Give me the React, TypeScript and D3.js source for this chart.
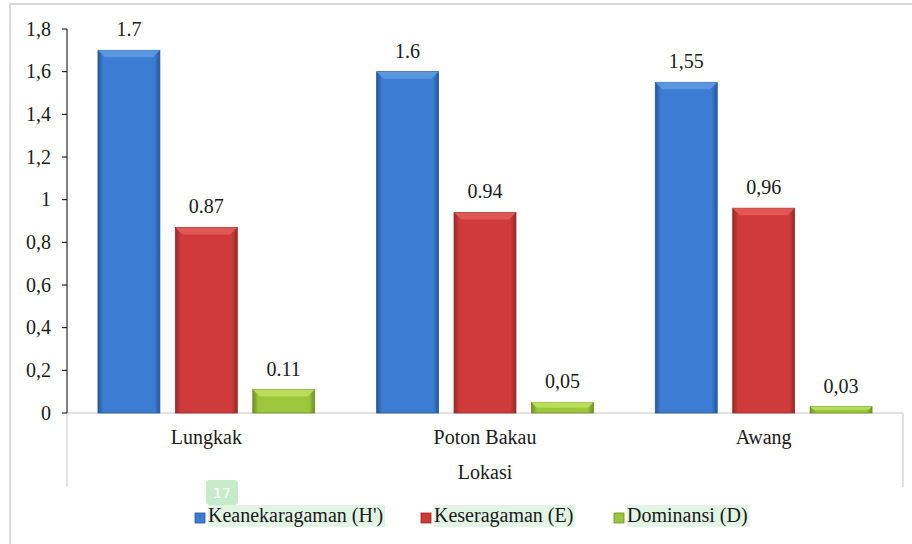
import { useEffect, useRef, useState } from 'react';
import * as d3 from 'd3';

// chart data
const locations = ['Lungkak', 'Poton Bakau', 'Awang'];
const seriesNames = ["Keanekaragaman (H')", 'Keseragaman (E)', 'Dominansi (D)'];
const diversity = [1.7, 1.6, 1.55];
const evenness = [0.87, 0.94, 0.96];
const dominance = [0.11, 0.05, 0.03];
const diversityLabels = ['1.7', '1.6', '1,55'];
const evennessLabels = ['0.87', '0.94', '0,96'];
const dominanceLabels = ['0.11', '0,05', '0,03'];
const yTicks = [0, 0.2, 0.4, 0.6, 0.8, 1, 1.2, 1.4, 1.6, 1.8];
const xTitle = 'Lokasi';

const palette = [
  { main: '#3c7dd3', light: '#5a95e0', dark: '#27579a' },
  { main: '#cf3a3a', light: '#df5856', dark: '#982a2a' },
  { main: '#9cc63c', light: '#b9dd5c', dark: '#6c8f24' },
];

const serif = { fontFamily: 'Tinos', fontSize: '20px' };

export default function App() {
  const width = 912;
  const height = 544;
  const left = 67;
  const right = 903;
  const top = 29;
  const bottom = 413;

  const y = d3.scaleLinear().domain([0, 1.8]).range([bottom, top]);
  const x0 = d3.scaleBand<string>().domain(locations).range([left, right]);
  const x1 = d3.scaleBand<string>()
    .domain(seriesNames)
    .range([0, x0.bandwidth()])
    .paddingInner(0.2)
    .paddingOuter(0.4);

  const series = [
    { values: diversity, labels: diversityLabels },
    { values: evenness, labels: evennessLabels },
    { values: dominance, labels: dominanceLabels },
  ];

  // legend highlight widths follow the measured text
  const legendX = [195, 421, 614];
  const legendRefs = useRef<(SVGTextElement | null)[]>([]);
  const [hlWidths, setHlWidths] = useState<number[]>([175, 139, 121]);
  useEffect(() => {
    const w = legendRefs.current.map(n => (n ? n.getComputedTextLength() : 0));
    if (w.every(v => v > 0)) setHlWidths(w);
  }, []);

  const grey = '#d9d9d9';

  return (
    <svg
      width={width}
      height={height}
      style={{ position: 'absolute', left: 0, top: 0, display: 'block' }}
    >
      <defs>
        {palette.map((c, i) => (
          <linearGradient key={i} id={`side${i}`} x1="0" x2="1" y1="0" y2="0">
            <stop offset="0%" stopColor={c.dark} />
            <stop offset="9%" stopColor={c.main} />
            <stop offset="91%" stopColor={c.main} />
            <stop offset="100%" stopColor={c.dark} />
          </linearGradient>
        ))}
      </defs>

      {/* outer frame */}
      <rect x={10} y={4} width={940} height={600} fill="#fff" stroke={grey} strokeWidth={2} />

      {/* category axis frame */}
      <line x1={left} x2={right} y1={bottom} y2={bottom} stroke={grey} strokeWidth={1.5} />
      <line x1={left} x2={left} y1={bottom} y2={487} stroke={grey} strokeWidth={1.5} />
      <line x1={right} x2={right} y1={bottom} y2={487} stroke={grey} strokeWidth={1.5} />

      {/* bars */}
      {series.map((s, si) =>
        locations.map((loc, li) => {
          const c = palette[si];
          const bx = (x0(loc) ?? 0) + (x1(seriesNames[si]) ?? 0);
          const bw = x1.bandwidth();
          const by = y(s.values[li]);
          const bh = bottom - by;
          const bev = Math.min(7, bh / 2);
          return (
            <g key={`${si}-${li}`}>
              <rect x={bx} y={by} width={bw} height={bh} fill={`url(#side${si})`} stroke={c.dark} strokeWidth={0.8} />
              <path
                d={`M${bx},${by} L${bx + bw},${by} L${bx + bw - bev},${by + bev} L${bx + bev},${by + bev} Z`}
                fill={c.light}
              />
              <text x={bx + bw / 2} y={by - 14} textAnchor="middle" fill="#1a1a1a" style={serif}>
                {s.labels[li]}
              </text>
            </g>
          );
        })
      )}

      {/* y axis */}
      <line x1={left} x2={left} y1={top} y2={bottom} stroke="#000" />
      {yTicks.map(t => (
        <g key={t}>
          <line x1={left - 5} x2={left} y1={y(t)} y2={y(t)} stroke="#000" />
          <text x={left - 16} y={y(t)} dy="0.33em" textAnchor="end" fill="#1a1a1a" style={serif}>
            {String(t).replace('.', ',')}
          </text>
        </g>
      ))}

      {/* category labels */}
      {locations.map(loc => (
        <text key={loc} x={(x0(loc) ?? 0) + x0.bandwidth() / 2} y={444} textAnchor="middle" fill="#1a1a1a" style={serif}>
          {loc}
        </text>
      ))}
      <text x={(left + right) / 2} y={479} textAnchor="middle" fill="#1a1a1a" style={serif}>
        {xTitle}
      </text>

      {/* "17" badge */}
      <rect x={206} y={480} width={32} height={25} rx={4} fill="#c6ebc9" />
      <text x={222} y={498} textAnchor="middle" fill="#fff" style={{ fontFamily: 'DejaVu Sans', fontSize: '14px' }}>
        17
      </text>

      {/* legend */}
      {seriesNames.map((name, i) => {
        const lx = legendX[i];
        return (
          <g key={name}>
            <rect x={lx + 13} y={505} width={hlWidths[i] + 2} height={22} fill="#e2f4e3" />
            <rect x={lx} y={513} width={10} height={10} fill={palette[i].main} stroke={palette[i].dark} strokeWidth={0.8} />
            <text
              ref={el => { legendRefs.current[i] = el; }}
              x={lx + 13}
              y={522}
              fill="#1a1a1a"
              style={serif}
            >
              {name}
            </text>
          </g>
        );
      })}
    </svg>
  );
}
